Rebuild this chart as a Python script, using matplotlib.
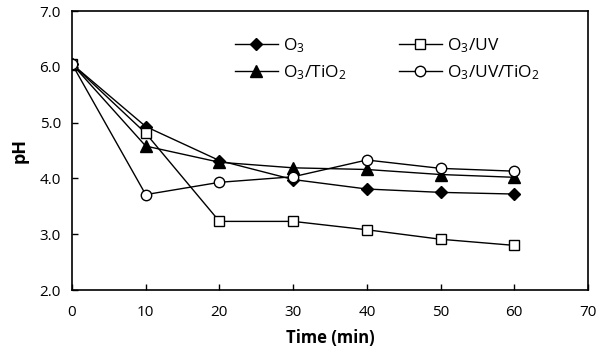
import matplotlib
matplotlib.use('Agg')
import matplotlib.pyplot as plt

plt.rcParams['font.family'] = 'Open Sans'
plt.rcParams['mathtext.fontset'] = 'custom'
plt.rcParams['mathtext.rm'] = 'Open Sans'
plt.rcParams['mathtext.it'] = 'Open Sans'

time = [0, 10, 20, 30, 40, 50, 60]
ph_o3 = [6.05, 4.93, 4.32, 3.98, 3.81, 3.75, 3.72]
ph_o3_uv = [6.05, 4.81, 3.23, 3.23, 3.08, 2.91, 2.80]
ph_o3_tio2 = [6.05, 4.58, 4.29, 4.19, 4.16, 4.07, 4.02]
ph_o3_uv_tio2 = [6.05, 3.71, 3.93, 4.03, 4.33, 4.18, 4.13]

fig = plt.figure(figsize=(6, 3.55), dpi=100)
ax = fig.add_axes([0.12, 0.183, 0.86, 0.786])

ax.plot(time, ph_o3, '-', color='black', lw=1, marker='D', ms=6,
        mfc='black', mec='black', label='O$_3$')
ax.plot(time, ph_o3_tio2, '-', color='black', lw=1, marker='^', ms=9,
        mfc='black', mec='black', label='O$_3$/TiO$_2$')
ax.plot(time, ph_o3_uv, '-', color='black', lw=1, marker='s', ms=7.5,
        mfc='white', mec='black', label='O$_3$/UV')
ax.plot(time, ph_o3_uv_tio2, '-', color='black', lw=1, marker='o', ms=7.5,
        mfc='white', mec='black', label='O$_3$/UV/TiO$_2$')

ax.set_xlim(0, 70)
ax.set_ylim(2.0, 7.0)
ax.set_xticks(range(0, 71, 10))
ax.set_yticks([2, 3, 4, 5, 6, 7])
ax.set_yticklabels(['2.0', '3.0', '4.0', '5.0', '6.0', '7.0'])
ax.tick_params(direction='in', labelsize=11, length=4, width=1)
ax.tick_params(axis='x', pad=11)
ax.tick_params(axis='y', pad=8)
for s in ax.spines.values():
    s.set_linewidth(1.2)

ax.set_xlabel('Time (min)', fontsize=12, fontweight='bold', labelpad=6)
ax.set_ylabel('pH', fontsize=13, fontweight='bold', labelpad=8)

ax.legend(ncol=2, loc='upper left', bbox_to_anchor=(0.285, 0.965), frameon=False,
          fontsize=12.5, handlelength=2.5, columnspacing=3.0, labelspacing=0.45,
          handletextpad=0.3)

fig.savefig('out.png', dpi=100)
